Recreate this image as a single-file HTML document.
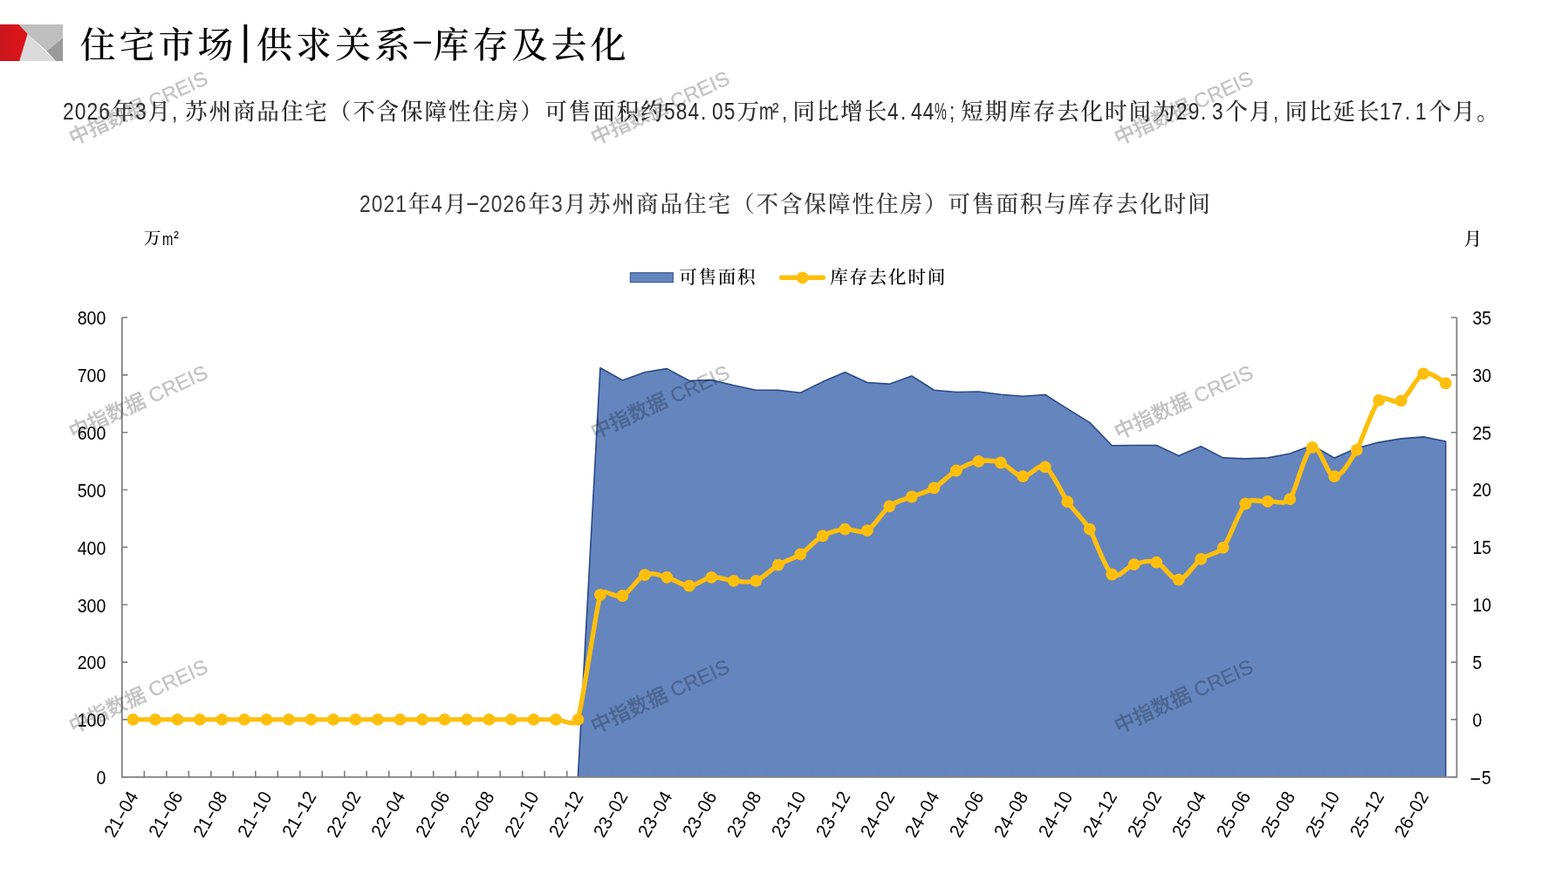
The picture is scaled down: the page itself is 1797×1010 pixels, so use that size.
<!DOCTYPE html>
<html lang="zh-CN">
<head>
<meta charset="utf-8">
<title>住宅市场|供求关系-库存及去化</title>
<style>
html,body{margin:0;padding:0;background:#fff;}
body{width:1797px;height:1010px;position:relative;overflow:hidden;font-family:"Liberation Sans","Noto Serif CJK SC",serif;}
.t{position:absolute;white-space:nowrap;line-height:1;font-family:"Liberation Sans","Noto Serif CJK SC",serif;}
.t .c{display:inline;}
.t .h{display:inline-block;white-space:nowrap;vertical-align:baseline;}
.t .s{display:inline-block;transform-origin:0 50%;white-space:nowrap;}
.t .s.m{transform-origin:50% 50%;}
.t .g{display:inline-block;width:0;height:0;}
#ctitle .hy{position:relative;top:-2px;}
#title{left:90px;top:25.5px;font-size:41px;color:#000;font-weight:500;}
#title .h{font-weight:400;}
#title .h{position:relative;top:-8.5px;}
#title .h.bar{font-size:47px;top:-4px;}
#body{left:71.7px;top:114px;font-size:25.6px;color:#2b2b2b;font-weight:500;}
#ctitle{left:411px;top:220px;font-size:25.6px;color:#3a3a3a;font-weight:500;}
#body .h,#ctitle .h{font-weight:400;}
#unitl{left:164.8px;top:264px;font-size:19.5px;color:#000;font-weight:500;}
#unitr{left:1676.8px;top:264.3px;font-size:20.5px;color:#000;font-weight:500;}
.leg{font-size:20.6px;color:#000;top:308px;font-weight:500;}
svg{position:absolute;left:0;top:0;}
svg text{font-family:"Liberation Sans","Noto Sans CJK SC",sans-serif;}
.axl text{font-size:21.3px;fill:#000;}
.wm text{font-size:23.4px;fill:#000;stroke:#000;stroke-width:0.3;opacity:0.24;font-weight:500;}
</style>
</head>
<body>
<svg width="1797" height="1010" viewBox="0 0 1797 1010">
<defs><linearGradient id="rg" x1="0" y1="0" x2="1" y2="0"><stop offset="0" stop-color="#C9171D"/><stop offset="0.55" stop-color="#D6151A"/><stop offset="1" stop-color="#DC1418"/></linearGradient></defs>
<g id="logo">
<polygon points="19,28 72,28 72,43.4 53.5,58.5 31.6,39" fill="#BFBFBF"/>
<polygon points="31.6,39 64.1,70 22.3,70" fill="#DBDBDB"/>
<polygon points="72,43.4 72,70 64.1,70 53.5,58.5" fill="#9A9A9A"/>
<polygon points="0,28 21.3,28 31.6,39 22.3,70 0,70" fill="url(#rg)"/>
</g>
<g id="legend">
<rect x="722.3" y="312.7" width="49" height="11" fill="#6585BE" stroke="#2A4A88" stroke-width="1"/>
<path d="M895.7 318.3 H943.5" stroke="#FEBF0C" stroke-width="5.4" stroke-linecap="round" fill="none"/>
<circle cx="919.7" cy="318.3" r="6.9" fill="#FEBF0C"/>
</g>
<g id="xticks"><path d="M165.3 890.8 v-7 M190.8 890.8 v-7 M216.3 890.8 v-7 M241.8 890.8 v-7 M267.3 890.8 v-7 M292.8 890.8 v-7 M318.3 890.8 v-7 M343.8 890.8 v-7 M369.3 890.8 v-7 M394.8 890.8 v-7 M420.2 890.8 v-7 M445.7 890.8 v-7 M471.2 890.8 v-7 M496.7 890.8 v-7 M522.2 890.8 v-7 M547.7 890.8 v-7 M573.2 890.8 v-7 M598.7 890.8 v-7 M624.2 890.8 v-7 M649.7 890.8 v-7 M675.2 890.8 v-7 M700.7 890.8 v-7 M726.2 890.8 v-7 M751.7 890.8 v-7 M777.2 890.8 v-7 M802.7 890.8 v-7 M828.2 890.8 v-7 M853.7 890.8 v-7 M879.2 890.8 v-7 M904.7 890.8 v-7 M930.1 890.8 v-7 M955.6 890.8 v-7 M981.1 890.8 v-7 M1006.6 890.8 v-7 M1032.1 890.8 v-7 M1057.6 890.8 v-7 M1083.1 890.8 v-7 M1108.6 890.8 v-7 M1134.1 890.8 v-7 M1159.6 890.8 v-7 M1185.1 890.8 v-7 M1210.6 890.8 v-7 M1236.1 890.8 v-7 M1261.6 890.8 v-7 M1287.1 890.8 v-7 M1312.6 890.8 v-7 M1338.1 890.8 v-7 M1363.6 890.8 v-7 M1389.1 890.8 v-7 M1414.5 890.8 v-7 M1440 890.8 v-7 M1465.5 890.8 v-7 M1491 890.8 v-7 M1516.5 890.8 v-7 M1542 890.8 v-7 M1567.5 890.8 v-7 M1593 890.8 v-7 M1618.5 890.8 v-7 M1644 890.8 v-7" fill="none" stroke="#808080" stroke-width="1.6"/></g>
<g id="area">
<path d="M662.4 890.8 L687.9 421.7 L713.4 436 L738.9 426.8 L764.4 422.6 L789.9 436.5 L815.4 435.6 L840.9 441.8 L866.4 447.3 L891.9 447.3 L917.4 450.2 L942.9 437.6 L968.4 426.8 L993.9 438.5 L1019.4 440.2 L1044.9 431 L1070.4 447.2 L1095.9 449.5 L1121.4 449 L1146.9 452.2 L1172.3 454.2 L1197.8 452.5 L1223.3 468.6 L1248.8 484.4 L1274.3 510.8 L1299.8 510.5 L1325.3 510.5 L1350.8 522.4 L1376.3 511.7 L1401.8 524.9 L1427.3 525.9 L1452.8 524.9 L1478.3 520 L1503.8 510.4 L1529.3 525.1 L1554.8 513.8 L1580.3 507.1 L1605.8 502.9 L1631.3 500.9 L1656.8 506 L1656.8 890.8 Z" fill="#6585BE"/>
<path d="M662.4 890.8 L687.9 421.7 L713.4 436 L738.9 426.8 L764.4 422.6 L789.9 436.5 L815.4 435.6 L840.9 441.8 L866.4 447.3 L891.9 447.3 L917.4 450.2 L942.9 437.6 L968.4 426.8 L993.9 438.5 L1019.4 440.2 L1044.9 431 L1070.4 447.2 L1095.9 449.5 L1121.4 449 L1146.9 452.2 L1172.3 454.2 L1197.8 452.5 L1223.3 468.6 L1248.8 484.4 L1274.3 510.8 L1299.8 510.5 L1325.3 510.5 L1350.8 522.4 L1376.3 511.7 L1401.8 524.9 L1427.3 525.9 L1452.8 524.9 L1478.3 520 L1503.8 510.4 L1529.3 525.1 L1554.8 513.8 L1580.3 507.1 L1605.8 502.9 L1631.3 500.9 L1656.8 506 L1656.8 890.8" fill="none" stroke="#2A4A88" stroke-width="1.6" stroke-linejoin="round"/>
</g>
<g id="xticks2" opacity="0.22"><path d="M165.3 890.8 v-7 M190.8 890.8 v-7 M216.3 890.8 v-7 M241.8 890.8 v-7 M267.3 890.8 v-7 M292.8 890.8 v-7 M318.3 890.8 v-7 M343.8 890.8 v-7 M369.3 890.8 v-7 M394.8 890.8 v-7 M420.2 890.8 v-7 M445.7 890.8 v-7 M471.2 890.8 v-7 M496.7 890.8 v-7 M522.2 890.8 v-7 M547.7 890.8 v-7 M573.2 890.8 v-7 M598.7 890.8 v-7 M624.2 890.8 v-7 M649.7 890.8 v-7 M675.2 890.8 v-7 M700.7 890.8 v-7 M726.2 890.8 v-7 M751.7 890.8 v-7 M777.2 890.8 v-7 M802.7 890.8 v-7 M828.2 890.8 v-7 M853.7 890.8 v-7 M879.2 890.8 v-7 M904.7 890.8 v-7 M930.1 890.8 v-7 M955.6 890.8 v-7 M981.1 890.8 v-7 M1006.6 890.8 v-7 M1032.1 890.8 v-7 M1057.6 890.8 v-7 M1083.1 890.8 v-7 M1108.6 890.8 v-7 M1134.1 890.8 v-7 M1159.6 890.8 v-7 M1185.1 890.8 v-7 M1210.6 890.8 v-7 M1236.1 890.8 v-7 M1261.6 890.8 v-7 M1287.1 890.8 v-7 M1312.6 890.8 v-7 M1338.1 890.8 v-7 M1363.6 890.8 v-7 M1389.1 890.8 v-7 M1414.5 890.8 v-7 M1440 890.8 v-7 M1465.5 890.8 v-7 M1491 890.8 v-7 M1516.5 890.8 v-7 M1542 890.8 v-7 M1567.5 890.8 v-7 M1593 890.8 v-7 M1618.5 890.8 v-7 M1644 890.8 v-7" fill="none" stroke="#808080" stroke-width="1.6"/></g>
<g id="axes"><path d="M139.8 890.8 h6.5 M1669.5 890.8 h-6.5 M139.8 824.9 h6.5 M1669.5 824.9 h-6.5 M139.8 759.1 h6.5 M1669.5 759.1 h-6.5 M139.8 693.2 h6.5 M1669.5 693.2 h-6.5 M139.8 627.4 h6.5 M1669.5 627.4 h-6.5 M139.8 561.5 h6.5 M1669.5 561.5 h-6.5 M139.8 495.7 h6.5 M1669.5 495.7 h-6.5 M139.8 429.9 h6.5 M1669.5 429.9 h-6.5 M139.8 364 h6.5 M1669.5 364 h-6.5" fill="none" stroke="#808080" stroke-width="1.6"/><path d="M139.8 364 V890.8 H1669.5 V364" fill="none" stroke="#808080" stroke-width="1.8"/></g>
<g class="wm"><text transform="translate(158.5 123.8) rotate(-24.5)" text-anchor="middle" x="0" y="8">中指数据 CREIS</text><text transform="translate(756.5 123.8) rotate(-24.5)" text-anchor="middle" x="0" y="8">中指数据 CREIS</text><text transform="translate(1356.5 123.8) rotate(-24.5)" text-anchor="middle" x="0" y="8">中指数据 CREIS</text><text transform="translate(158.5 461.1) rotate(-24.5)" text-anchor="middle" x="0" y="8">中指数据 CREIS</text><text transform="translate(756.5 461.1) rotate(-24.5)" text-anchor="middle" x="0" y="8">中指数据 CREIS</text><text transform="translate(1356.5 461.1) rotate(-24.5)" text-anchor="middle" x="0" y="8">中指数据 CREIS</text><text transform="translate(158.5 798.3) rotate(-24.5)" text-anchor="middle" x="0" y="8">中指数据 CREIS</text><text transform="translate(756.5 798.3) rotate(-24.5)" text-anchor="middle" x="0" y="8">中指数据 CREIS</text><text transform="translate(1356.5 798.3) rotate(-24.5)" text-anchor="middle" x="0" y="8">中指数据 CREIS</text></g>
<g id="line">
<path d="M152.5 824.9 C156.8 824.9 169.5 824.9 178 824.9 C186.5 824.9 195 824.9 203.5 824.9 C212 824.9 220.5 824.9 229 824.9 C237.5 824.9 246 824.9 254.5 824.9 C263 824.9 271.5 824.9 280 824.9 C288.5 824.9 297 824.9 305.5 824.9 C314 824.9 322.5 824.9 331 824.9 C339.5 824.9 348 824.9 356.5 824.9 C365 824.9 373.5 824.9 382 824.9 C390.5 824.9 399 824.9 407.5 824.9 C416 824.9 424.5 824.9 433 824.9 C441.5 824.9 450 824.9 458.5 824.9 C467 824.9 475.5 824.9 484 824.9 C492.5 824.9 501 824.9 509.5 824.9 C518 824.9 526.5 824.9 535 824.9 C543.5 824.9 552 824.9 560.5 824.9 C569 824.9 577.5 824.9 586 824.9 C594.5 824.9 603 824.9 611.5 824.9 C620 824.9 628.5 824.9 637 824.9 C645.5 824.9 659.1 834.4 662.4 824.9 C665.8 815.5 684.6 691.3 687.9 681.9 C691.3 672.5 704.9 686.8 713.4 683 C721.9 679.2 730.4 662.6 738.9 659.1 C747.4 655.6 755.9 659.7 764.4 661.8 C772.9 663.9 781.4 671.7 789.9 671.7 C798.4 671.7 806.9 662.8 815.4 661.8 C823.9 660.8 832.4 665.1 840.9 665.8 C849.4 666.5 857.9 668.8 866.4 665.8 C874.9 662.8 883.4 652.7 891.9 647.6 C900.4 642.5 909 640.9 917.4 635.4 C925.8 629.9 934.4 619.1 942.9 614.3 C951.4 609.5 959.9 607.7 968.4 606.7 C976.9 605.7 985.4 612.6 993.9 608.2 C1002.4 603.8 1011.4 586.3 1019.4 580.3 C1027.3 574.3 1036.4 573 1044.9 569.5 C1053.4 566 1061.9 564.4 1070.4 559.4 C1078.9 554.4 1087.4 544.6 1095.9 539.5 C1104.4 534.4 1112.9 530.4 1121.4 528.9 C1129.9 527.4 1138.4 527.6 1146.9 530.5 C1155.4 533.4 1163.8 545.4 1172.3 546.2 C1180.8 547 1189.3 530.6 1197.8 535.4 C1206.3 540.2 1217.5 567.1 1223.3 575.2 C1229.2 583.3 1243.6 598.1 1248.8 606.6 C1254.1 615.1 1266.5 652.3 1274.3 658.5 C1282.2 664.7 1291.3 649.4 1299.8 647.1 C1308.3 644.8 1316.8 641.7 1325.3 644.6 C1333.8 647.5 1342.3 665.2 1350.8 664.6 C1359.3 664 1368.2 646.8 1376.3 640.9 C1384.4 635 1395.5 635.6 1401.8 627.8 C1408.1 620 1420.4 584.7 1427.3 577.5 C1434.2 570.3 1444.3 575.7 1452.8 574.8 C1461.3 573.9 1471.9 579.9 1478.3 572.2 C1484.6 564.5 1495.3 517.2 1503.8 512.9 C1512.3 508.5 1520.8 545.6 1529.3 546.1 C1537.8 546.6 1549.7 524.5 1554.8 515.9 C1559.8 507.3 1573.6 466.3 1580.3 458.9 C1587 451.5 1597.3 464.5 1605.8 459.4 C1614.3 454.3 1622.8 431.8 1631.3 428.4 C1639.8 425 1652.5 437.5 1656.8 439.3" fill="none" stroke="#FEBF0C" stroke-width="5.4" stroke-linejoin="round" stroke-linecap="round"/>
<g fill="#FEBF0C"><circle cx="152.5" cy="824.9" r="6.9"/><circle cx="178" cy="824.9" r="6.9"/><circle cx="203.5" cy="824.9" r="6.9"/><circle cx="229" cy="824.9" r="6.9"/><circle cx="254.5" cy="824.9" r="6.9"/><circle cx="280" cy="824.9" r="6.9"/><circle cx="305.5" cy="824.9" r="6.9"/><circle cx="331" cy="824.9" r="6.9"/><circle cx="356.5" cy="824.9" r="6.9"/><circle cx="382" cy="824.9" r="6.9"/><circle cx="407.5" cy="824.9" r="6.9"/><circle cx="433" cy="824.9" r="6.9"/><circle cx="458.5" cy="824.9" r="6.9"/><circle cx="484" cy="824.9" r="6.9"/><circle cx="509.5" cy="824.9" r="6.9"/><circle cx="535" cy="824.9" r="6.9"/><circle cx="560.5" cy="824.9" r="6.9"/><circle cx="586" cy="824.9" r="6.9"/><circle cx="611.5" cy="824.9" r="6.9"/><circle cx="637" cy="824.9" r="6.9"/><circle cx="662.4" cy="824.9" r="6.9"/><circle cx="687.9" cy="681.9" r="6.9"/><circle cx="713.4" cy="683" r="6.9"/><circle cx="738.9" cy="659.1" r="6.9"/><circle cx="764.4" cy="661.8" r="6.9"/><circle cx="789.9" cy="671.7" r="6.9"/><circle cx="815.4" cy="661.8" r="6.9"/><circle cx="840.9" cy="665.8" r="6.9"/><circle cx="866.4" cy="665.8" r="6.9"/><circle cx="891.9" cy="647.6" r="6.9"/><circle cx="917.4" cy="635.4" r="6.9"/><circle cx="942.9" cy="614.3" r="6.9"/><circle cx="968.4" cy="606.7" r="6.9"/><circle cx="993.9" cy="608.2" r="6.9"/><circle cx="1019.4" cy="580.3" r="6.9"/><circle cx="1044.9" cy="569.5" r="6.9"/><circle cx="1070.4" cy="559.4" r="6.9"/><circle cx="1095.9" cy="539.5" r="6.9"/><circle cx="1121.4" cy="528.9" r="6.9"/><circle cx="1146.9" cy="530.5" r="6.9"/><circle cx="1172.3" cy="546.2" r="6.9"/><circle cx="1197.8" cy="535.4" r="6.9"/><circle cx="1223.3" cy="575.2" r="6.9"/><circle cx="1248.8" cy="606.6" r="6.9"/><circle cx="1274.3" cy="658.5" r="6.9"/><circle cx="1299.8" cy="647.1" r="6.9"/><circle cx="1325.3" cy="644.6" r="6.9"/><circle cx="1350.8" cy="664.6" r="6.9"/><circle cx="1376.3" cy="640.9" r="6.9"/><circle cx="1401.8" cy="627.8" r="6.9"/><circle cx="1427.3" cy="577.5" r="6.9"/><circle cx="1452.8" cy="574.8" r="6.9"/><circle cx="1478.3" cy="572.2" r="6.9"/><circle cx="1503.8" cy="512.9" r="6.9"/><circle cx="1529.3" cy="546.1" r="6.9"/><circle cx="1554.8" cy="515.9" r="6.9"/><circle cx="1580.3" cy="458.9" r="6.9"/><circle cx="1605.8" cy="459.4" r="6.9"/><circle cx="1631.3" cy="428.4" r="6.9"/><circle cx="1656.8" cy="439.3" r="6.9"/></g>
</g>
<g class="axl"><text transform="translate(121.4 899) scale(0.92 1)" text-anchor="end">0</text><text transform="translate(1683.7 898.6) scale(0.92 1)"><tspan textLength="15.5" lengthAdjust="spacingAndGlyphs">-</tspan>5</text><text transform="translate(121.4 833.1) scale(0.92 1)" text-anchor="end">100</text><text transform="translate(1687.4 832.7) scale(0.92 1)">0</text><text transform="translate(121.4 767.3) scale(0.92 1)" text-anchor="end">200</text><text transform="translate(1687.4 766.9) scale(0.92 1)">5</text><text transform="translate(121.4 701.5) scale(0.92 1)" text-anchor="end">300</text><text transform="translate(1687.4 701) scale(0.92 1)">10</text><text transform="translate(121.4 635.6) scale(0.92 1)" text-anchor="end">400</text><text transform="translate(1687.4 635.2) scale(0.92 1)">15</text><text transform="translate(121.4 569.8) scale(0.92 1)" text-anchor="end">500</text><text transform="translate(1687.4 569.3) scale(0.92 1)">20</text><text transform="translate(121.4 503.9) scale(0.92 1)" text-anchor="end">600</text><text transform="translate(1687.4 503.5) scale(0.92 1)">25</text><text transform="translate(121.4 438.1) scale(0.92 1)" text-anchor="end">700</text><text transform="translate(1687.4 437.7) scale(0.92 1)">30</text><text transform="translate(121.4 372.2) scale(0.92 1)" text-anchor="end">800</text><text transform="translate(1687.4 371.8) scale(0.92 1)">35</text></g>
<g class="axl"><text transform="translate(153.1 909.2) rotate(-60) scale(0.96 1)" text-anchor="end" x="0" y="7">21<tspan textLength="11.5" lengthAdjust="spacingAndGlyphs">-</tspan>04</text><text transform="translate(204.1 909.2) rotate(-60) scale(0.96 1)" text-anchor="end" x="0" y="7">21<tspan textLength="11.5" lengthAdjust="spacingAndGlyphs">-</tspan>06</text><text transform="translate(255.1 909.2) rotate(-60) scale(0.96 1)" text-anchor="end" x="0" y="7">21<tspan textLength="11.5" lengthAdjust="spacingAndGlyphs">-</tspan>08</text><text transform="translate(306.1 909.2) rotate(-60) scale(0.96 1)" text-anchor="end" x="0" y="7">21<tspan textLength="11.5" lengthAdjust="spacingAndGlyphs">-</tspan>10</text><text transform="translate(357.1 909.2) rotate(-60) scale(0.96 1)" text-anchor="end" x="0" y="7">21<tspan textLength="11.5" lengthAdjust="spacingAndGlyphs">-</tspan>12</text><text transform="translate(408.1 909.2) rotate(-60) scale(0.96 1)" text-anchor="end" x="0" y="7">22<tspan textLength="11.5" lengthAdjust="spacingAndGlyphs">-</tspan>02</text><text transform="translate(459.1 909.2) rotate(-60) scale(0.96 1)" text-anchor="end" x="0" y="7">22<tspan textLength="11.5" lengthAdjust="spacingAndGlyphs">-</tspan>04</text><text transform="translate(510.1 909.2) rotate(-60) scale(0.96 1)" text-anchor="end" x="0" y="7">22<tspan textLength="11.5" lengthAdjust="spacingAndGlyphs">-</tspan>06</text><text transform="translate(561.1 909.2) rotate(-60) scale(0.96 1)" text-anchor="end" x="0" y="7">22<tspan textLength="11.5" lengthAdjust="spacingAndGlyphs">-</tspan>08</text><text transform="translate(612.1 909.2) rotate(-60) scale(0.96 1)" text-anchor="end" x="0" y="7">22<tspan textLength="11.5" lengthAdjust="spacingAndGlyphs">-</tspan>10</text><text transform="translate(663 909.2) rotate(-60) scale(0.96 1)" text-anchor="end" x="0" y="7">22<tspan textLength="11.5" lengthAdjust="spacingAndGlyphs">-</tspan>12</text><text transform="translate(714 909.2) rotate(-60) scale(0.96 1)" text-anchor="end" x="0" y="7">23<tspan textLength="11.5" lengthAdjust="spacingAndGlyphs">-</tspan>02</text><text transform="translate(765 909.2) rotate(-60) scale(0.96 1)" text-anchor="end" x="0" y="7">23<tspan textLength="11.5" lengthAdjust="spacingAndGlyphs">-</tspan>04</text><text transform="translate(816 909.2) rotate(-60) scale(0.96 1)" text-anchor="end" x="0" y="7">23<tspan textLength="11.5" lengthAdjust="spacingAndGlyphs">-</tspan>06</text><text transform="translate(867 909.2) rotate(-60) scale(0.96 1)" text-anchor="end" x="0" y="7">23<tspan textLength="11.5" lengthAdjust="spacingAndGlyphs">-</tspan>08</text><text transform="translate(918 909.2) rotate(-60) scale(0.96 1)" text-anchor="end" x="0" y="7">23<tspan textLength="11.5" lengthAdjust="spacingAndGlyphs">-</tspan>10</text><text transform="translate(969 909.2) rotate(-60) scale(0.96 1)" text-anchor="end" x="0" y="7">23<tspan textLength="11.5" lengthAdjust="spacingAndGlyphs">-</tspan>12</text><text transform="translate(1020 909.2) rotate(-60) scale(0.96 1)" text-anchor="end" x="0" y="7">24<tspan textLength="11.5" lengthAdjust="spacingAndGlyphs">-</tspan>02</text><text transform="translate(1071 909.2) rotate(-60) scale(0.96 1)" text-anchor="end" x="0" y="7">24<tspan textLength="11.5" lengthAdjust="spacingAndGlyphs">-</tspan>04</text><text transform="translate(1122 909.2) rotate(-60) scale(0.96 1)" text-anchor="end" x="0" y="7">24<tspan textLength="11.5" lengthAdjust="spacingAndGlyphs">-</tspan>06</text><text transform="translate(1172.9 909.2) rotate(-60) scale(0.96 1)" text-anchor="end" x="0" y="7">24<tspan textLength="11.5" lengthAdjust="spacingAndGlyphs">-</tspan>08</text><text transform="translate(1223.9 909.2) rotate(-60) scale(0.96 1)" text-anchor="end" x="0" y="7">24<tspan textLength="11.5" lengthAdjust="spacingAndGlyphs">-</tspan>10</text><text transform="translate(1274.9 909.2) rotate(-60) scale(0.96 1)" text-anchor="end" x="0" y="7">24<tspan textLength="11.5" lengthAdjust="spacingAndGlyphs">-</tspan>12</text><text transform="translate(1325.9 909.2) rotate(-60) scale(0.96 1)" text-anchor="end" x="0" y="7">25<tspan textLength="11.5" lengthAdjust="spacingAndGlyphs">-</tspan>02</text><text transform="translate(1376.9 909.2) rotate(-60) scale(0.96 1)" text-anchor="end" x="0" y="7">25<tspan textLength="11.5" lengthAdjust="spacingAndGlyphs">-</tspan>04</text><text transform="translate(1427.9 909.2) rotate(-60) scale(0.96 1)" text-anchor="end" x="0" y="7">25<tspan textLength="11.5" lengthAdjust="spacingAndGlyphs">-</tspan>06</text><text transform="translate(1478.9 909.2) rotate(-60) scale(0.96 1)" text-anchor="end" x="0" y="7">25<tspan textLength="11.5" lengthAdjust="spacingAndGlyphs">-</tspan>08</text><text transform="translate(1529.9 909.2) rotate(-60) scale(0.96 1)" text-anchor="end" x="0" y="7">25<tspan textLength="11.5" lengthAdjust="spacingAndGlyphs">-</tspan>10</text><text transform="translate(1580.9 909.2) rotate(-60) scale(0.96 1)" text-anchor="end" x="0" y="7">25<tspan textLength="11.5" lengthAdjust="spacingAndGlyphs">-</tspan>12</text><text transform="translate(1631.9 909.2) rotate(-60) scale(0.96 1)" text-anchor="end" x="0" y="7">26<tspan textLength="11.5" lengthAdjust="spacingAndGlyphs">-</tspan>02</text></g>
</svg>
<div id="title" class="t"><span class="c" style="letter-spacing:4px;margin:0 -1.6px 0 1.6px">住宅市场</span><span class="h bar" style="width:22.5px;text-align:center"><span class="s m">|</span></span><span class="c" style="letter-spacing:4px;margin:0 -1.6px 0 1.6px">供求关系</span><span class="h hy" style="width:22.5px;font-size:30px;text-align:center"><span class="s m" style="transform:scaleX(2.7)">-</span></span><span class="c" style="letter-spacing:4px;margin:0 -1.6px 0 1.6px">库存及去化</span></div>
<div id="body" class="t"><span class="h" style="width:54.9px;font-size:27.8px"><span class="s" style="transform:scaleX(0.82);letter-spacing:1.28px;margin-left:0.52px">2026</span></span><span class="c" style="letter-spacing:1.85px;margin:0 -1.72px 0 1.72px">年</span><span class="h" style="width:13.72px;font-size:27.8px"><span class="s" style="transform:scaleX(0.82);letter-spacing:1.28px;margin-left:0.52px">3</span></span><span class="c" style="letter-spacing:1.85px;margin:0 -1.72px 0 1.72px">月</span><span class="h" style="width:13.72px;font-size:27.8px"><span class="s" style="transform:scaleX(0.82);margin-left:1.3px">,</span></span><span class="g" style="margin-left:1.4px"></span><span class="c" style="letter-spacing:1.85px;margin:0 -1.72px 0 1.72px">苏州商品住宅（不含保障性住房）</span><span class="g" style="margin-left:0.6px"></span><span class="c" style="letter-spacing:1.85px;margin:0 -1.72px 0 1.72px">可售面积约</span><span class="g" style="margin-left:0.7px"></span><span class="h" style="width:41.17px;font-size:27.8px"><span class="s" style="transform:scaleX(0.82);letter-spacing:1.28px;margin-left:0.52px">584</span></span><span class="h" style="width:13.72px;font-size:27.8px"><span class="s" style="transform:scaleX(0.82);margin-left:1.5px">.</span></span><span class="h" style="width:27.45px;font-size:27.8px"><span class="s" style="transform:scaleX(0.82);letter-spacing:1.28px;margin-left:0.52px">05</span></span><span class="c" style="letter-spacing:1.85px;margin:0 -1.72px 0 1.72px">万</span><span class="g" style="margin-left:-0.7px"></span><span class="h" style="width:13.72px;font-size:27.8px"><span class="s" style="transform:scaleX(0.72);margin-left:0px">m</span></span><span class="h" style="width:13.72px;font-size:27.8px"><span class="s" style="transform:scaleX(0.82);margin-left:2px">²</span></span><span class="g" style="margin-left:-2.7px"></span><span class="h" style="width:13.72px;font-size:27.8px"><span class="s" style="transform:scaleX(0.82);margin-left:1.3px">,</span></span><span class="g" style="margin-left:-1.4px"></span><span class="c" style="letter-spacing:1.85px;margin:0 -1.72px 0 1.72px">同比增长</span><span class="h" style="width:13.72px;font-size:27.8px"><span class="s" style="transform:scaleX(0.82);letter-spacing:1.28px;margin-left:0.52px">4</span></span><span class="h" style="width:13.72px;font-size:27.8px"><span class="s" style="transform:scaleX(0.82);margin-left:1.5px">.</span></span><span class="h" style="width:27.45px;font-size:27.8px"><span class="s" style="transform:scaleX(0.82);letter-spacing:1.28px;margin-left:0.52px">44</span></span><span class="h" style="width:13.72px;font-size:27.8px"><span class="s" style="transform:scaleX(0.56);margin-left:0px">%</span></span><span class="h" style="width:13.72px;font-size:27.8px"><span class="s" style="transform:scaleX(0.82);margin-left:2.9px">;</span></span><span class="g" style="margin-left:0.9px"></span><span class="c" style="letter-spacing:1.85px;margin:0 -1.72px 0 1.72px">短期库存去化时间为</span><span class="g" style="margin-left:0.9px"></span><span class="h" style="width:27.45px;font-size:27.8px"><span class="s" style="transform:scaleX(0.82);letter-spacing:1.28px;margin-left:0.52px">29</span></span><span class="h" style="width:13.72px;font-size:27.8px"><span class="s" style="transform:scaleX(0.82);margin-left:1.5px">.</span></span><span class="h" style="width:13.72px;font-size:27.8px"><span class="s" style="transform:scaleX(0.82);letter-spacing:1.28px;margin-left:0.52px">3</span></span><span class="c" style="letter-spacing:1.85px;margin:0 -1.72px 0 1.72px">个月</span><span class="h" style="width:13.72px;font-size:27.8px"><span class="s" style="transform:scaleX(0.82);margin-left:1.3px">,</span></span><span class="c" style="letter-spacing:1.85px;margin:0 -1.72px 0 1.72px">同比延长</span><span class="h" style="width:27.45px;font-size:27.8px"><span class="s" style="transform:scaleX(0.82);letter-spacing:1.28px;margin-left:0.52px">17</span></span><span class="h" style="width:13.72px;font-size:27.8px"><span class="s" style="transform:scaleX(0.82);margin-left:1.5px">.</span></span><span class="h" style="width:13.72px;font-size:27.8px"><span class="s" style="transform:scaleX(0.82);letter-spacing:1.28px;margin-left:0.52px">1</span></span><span class="c" style="letter-spacing:1.85px;margin:0 -1.72px 0 1.72px">个月。</span></div>
<div id="ctitle" class="t"><span class="h" style="width:55px;font-size:27.8px"><span class="s" style="transform:scaleX(0.82);letter-spacing:1.31px;margin-left:0.54px">2021</span></span><span class="c" style="letter-spacing:1.9px;margin:0 -1.75px 0 1.75px">年</span><span class="h" style="width:13.75px;font-size:27.8px"><span class="s" style="transform:scaleX(0.82);letter-spacing:1.31px;margin-left:0.54px">4</span></span><span class="c" style="letter-spacing:1.9px;margin:0 -1.75px 0 1.75px">月</span><span class="h hy" style="width:13.75px;font-size:27.8px;text-align:center"><span class="s m" style="transform:scaleX(1.8)">-</span></span><span class="h" style="width:55px;font-size:27.8px"><span class="s" style="transform:scaleX(0.82);letter-spacing:1.31px;margin-left:0.54px">2026</span></span><span class="c" style="letter-spacing:1.9px;margin:0 -1.75px 0 1.75px">年</span><span class="h" style="width:13.75px;font-size:27.8px"><span class="s" style="transform:scaleX(0.82);letter-spacing:1.31px;margin-left:0.54px">3</span></span><span class="c" style="letter-spacing:1.9px;margin:0 -1.75px 0 1.75px">月苏州商品住宅（不含保障性住房）可售面积与库存去化时间</span></div>
<div id="unitl" class="t"><span class="c" style="letter-spacing:1.1px;margin:0 -0.25px 0 0.25px">万</span><span class="h" style="width:10.3px;font-size:19.5px;position:relative;top:0.5px"><span class="s" style="transform:scaleX(0.76);margin-left:0.5px">m</span></span><span class="h" style="width:10.3px;font-size:19.5px;position:relative;top:-2px"><span class="s" style="transform:scaleX(0.9);margin-left:3.6px">²</span></span></div>
<div id="unitr" class="t"><span class="c" style="letter-spacing:0.1px;margin:0 -0.85px 0 0.85px">月</span></div>
<div class="t leg" style="left:776.6px"><span class="c" style="letter-spacing:1.7px;margin:0 -1.65px 0 1.65px">可售面积</span></div>
<div class="t leg" style="left:949.6px"><span class="c" style="letter-spacing:1.7px;margin:0 -1.65px 0 1.65px">库存去化时间</span></div>
</body>
</html>
